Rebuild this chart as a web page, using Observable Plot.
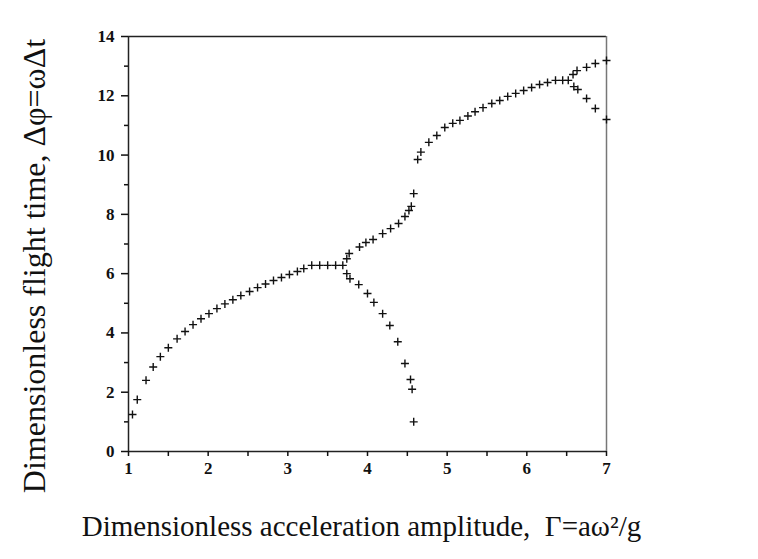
<!DOCTYPE html>
<html>
<head>
<meta charset="utf-8">
<script src="https://cdn.jsdelivr.net/npm/d3@7"></script>
<script src="https://cdn.jsdelivr.net/npm/@observablehq/plot@0.6"></script>
<style>
  html, body { margin: 0; padding: 0; background: #fff; }
  #chart { width: 758px; height: 559px; }
</style>
</head>
<body>
<div id="chart"></div>
<script>
// Dimensionless acceleration amplitude Γ (x) and flight time Δφ (y)
const gammaVals = [
  1.05, 1.11, 1.22, 1.31, 1.40, 1.50, 1.61, 1.71, 1.81, 1.91, 2.01, 2.11, 2.21, 2.31, 2.41, 2.52,
  2.62, 2.72, 2.82, 2.92, 3.02, 3.12, 3.20, 3.30, 3.40, 3.50, 3.60, 3.69,
  3.74, 3.77, 3.90, 3.98, 4.07, 4.19, 4.29, 4.39, 4.47, 4.52, 4.55, 4.58,
  3.74, 3.78, 3.89, 4.00, 4.08, 4.19, 4.28, 4.38, 4.47, 4.54, 4.56, 4.58,
  4.63, 4.67, 4.77, 4.87, 4.97, 5.07, 5.16, 5.26, 5.35, 5.45, 5.56, 5.66, 5.76, 5.86, 5.96,
  6.06, 6.16, 6.26, 6.36, 6.45, 6.52,
  6.58, 6.63, 6.75, 6.86, 7.00,
  6.59, 6.64, 6.75, 6.86, 7.00
];
const flightVals = [
  1.25, 1.75, 2.40, 2.85, 3.20, 3.50, 3.80, 4.05, 4.28, 4.48, 4.65, 4.82, 4.98, 5.12, 5.26, 5.40,
  5.53, 5.65, 5.77, 5.87, 5.97, 6.07, 6.17, 6.28, 6.28, 6.28, 6.28, 6.28,
  6.50, 6.68, 6.90, 7.05, 7.15, 7.35, 7.52, 7.69, 7.93, 8.13, 8.27, 8.70,
  6.00, 5.83, 5.63, 5.33, 5.03, 4.65, 4.25, 3.70, 2.97, 2.43, 2.10, 1.00,
  9.85, 10.10, 10.43, 10.66, 10.93, 11.07, 11.17, 11.32, 11.46, 11.60, 11.74, 11.84, 11.98, 12.08, 12.18,
  12.28, 12.38, 12.45, 12.52, 12.52, 12.52,
  12.72, 12.85, 12.96, 13.09, 13.19,
  12.31, 12.21, 11.91, 11.57, 11.20
];
const yMajorTicks = [0, 2, 4, 6, 8, 10, 12, 14];
const yMinorTicks = [1, 3, 5, 7, 9, 11, 13];
const xMajorTicks = [1, 2, 3, 4, 5, 6, 7];
const xMinorTicks = [1.5, 2.5, 3.5, 4.5, 5.5, 6.5];
const xLabel = "Dimensionless acceleration amplitude,  Γ=aω²/g";
const yLabel = "Dimensionless flight time, Δφ=ωΔt";

const points = gammaVals.map((g, i) => ({g, f: flightVals[i]}));

const chart = Plot.plot({
  width: 758,
  height: 559,
  marginLeft: 128,
  marginRight: 152,
  marginTop: 36,
  marginBottom: 108,
  style: {fontFamily: "'Liberation Serif', 'Times New Roman', serif", background: "#fff", color: "#111"},
  x: {domain: [1, 7]},
  y: {domain: [0, 14]},
  marks: [
    Plot.ruleY([14], {stroke: "#222", strokeWidth: 1.5}),
    Plot.ruleX([7], {stroke: "#777", strokeWidth: 1.5}),
    Plot.ruleX([1], {stroke: "#222", strokeWidth: 1.5}),
    Plot.ruleY([0], {stroke: "#222", strokeWidth: 1.5}),
    Plot.axisY({ticks: yMajorTicks, tickSize: 7, tickPadding: 7, tickFormat: d3.format("d"), fontSize: 17, fontWeight: "bold", label: null, strokeWidth: 1.5}),
    Plot.axisY({ticks: yMinorTicks, tickSize: 4, tickFormat: () => "", label: null, strokeWidth: 1.5}),
    Plot.axisX({ticks: xMajorTicks, tickSize: 5, tickPadding: 5, tickFormat: d3.format("d"), fontSize: 17, fontWeight: "bold", label: null, strokeWidth: 1.5}),
    Plot.axisX({ticks: xMinorTicks, tickSize: 5, tickFormat: () => "", label: null, strokeWidth: 1.5}),
    Plot.dot(points, {x: "g", y: "f", symbol: "plus", r: 2.7, stroke: "#111", strokeWidth: 1.4}),
    Plot.text([yLabel], {frameAnchor: "left", dx: -94, dy: 22, rotate: -90, fontSize: 32, fill: "#111", textAnchor: "middle"}),
    Plot.text([xLabel], {frameAnchor: "bottom", dx: -6, dy: 84, fontSize: 29, fill: "#111", textAnchor: "middle"})
  ]
});
document.getElementById("chart").appendChild(chart);
</script>
</body>
</html>
